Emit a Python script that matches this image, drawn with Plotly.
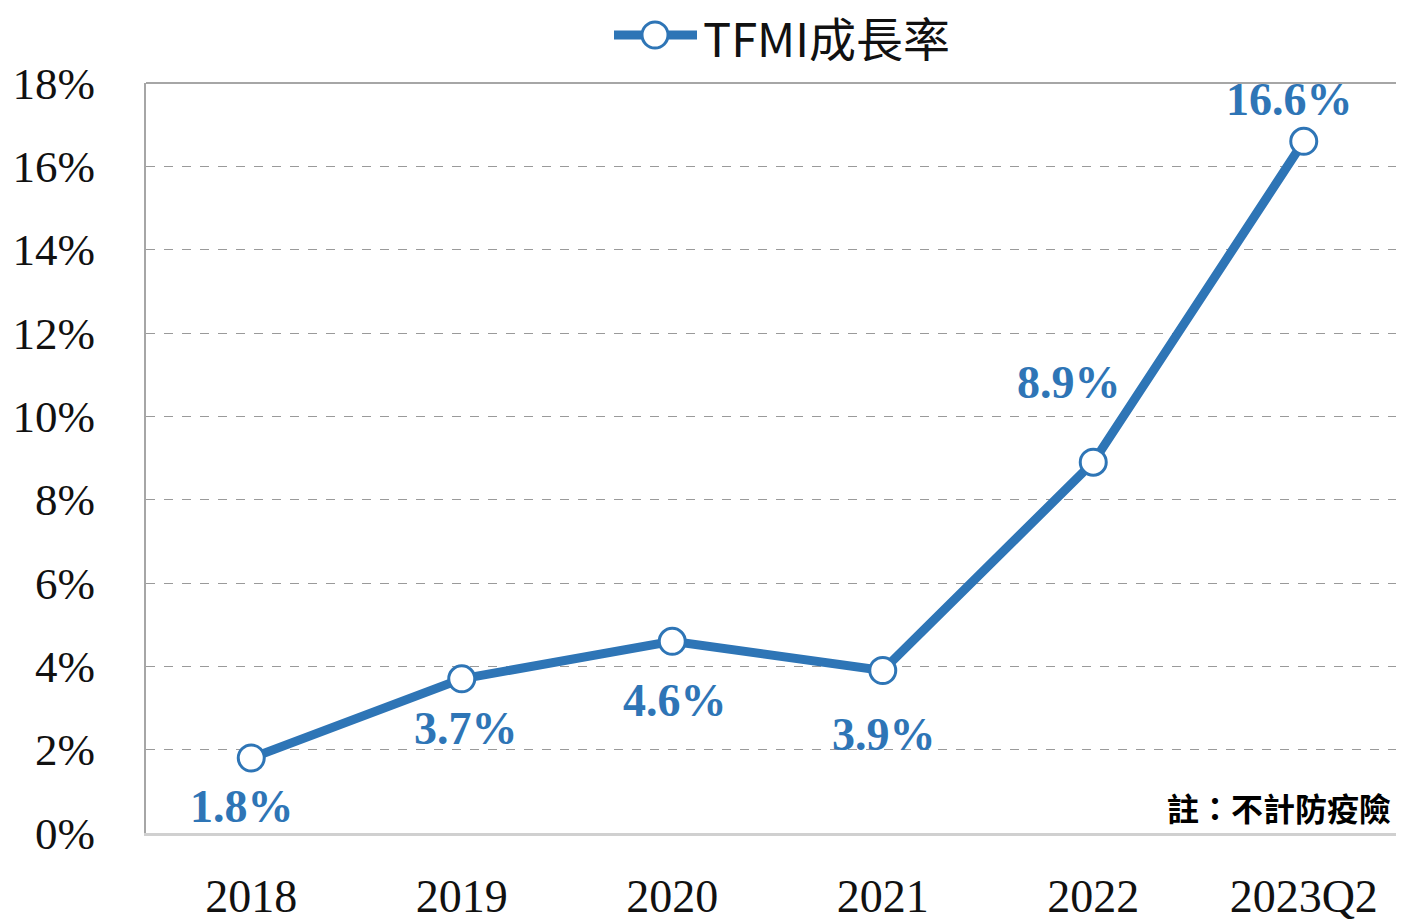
import plotly.graph_objects as go

categories = ["2018", "2019", "2020", "2021", "2022", "2023Q2"]
growth = [1.8, 3.7, 4.6, 3.9, 8.9, 16.6]
y_ticks = [0, 2, 4, 6, 8, 10, 12, 14, 16, 18]
y_tick_labels = [f"{v}%" for v in y_ticks]
series_name = "TFMI成長率"
note_text = "註：不計防疫險"

BLUE = "#2E75B6"
label_xshift = [-9, 4, 3, 1, -24, -14]
label_yshift = [-48, -50, -59, -64, 80, 42]

xpos = list(range(len(categories)))

fig = go.Figure()
fig.add_trace(go.Scatter(
    x=xpos, y=growth, name=series_name, mode="lines+markers",
    line=dict(color=BLUE, width=9),
    marker=dict(symbol="circle", size=26, color="white", line=dict(color=BLUE, width=3)),
    cliponaxis=False, hoverinfo="skip", showlegend=False,
))

for xp, v, dx, dy in zip(xpos, growth, label_xshift, label_yshift):
    fig.add_annotation(x=xp, y=v, xref="x", yref="y", text=f"<b>{v}%</b>", showarrow=False,
                       xshift=dx, yshift=dy,
                       font=dict(family="Liberation Serif", size=46, color=BLUE))

fig.add_annotation(xref="paper", yref="paper", x=0.987, y=0.0, xanchor="right", yanchor="bottom",
                   text=f"<b>{note_text}</b>", showarrow=False, yshift=1,
                   font=dict(family="Noto Sans CJK TC", size=32, color="#000000"))

# custom legend (line + circle symbol + label) above the plot
fig.add_annotation(xref="paper", yref="paper", x=0, y=1, xanchor="left", yanchor="middle",
                   xshift=555, yshift=47, text=series_name, showarrow=False,
                   height=50, valign="middle",
                   font=dict(family="Noto Sans CJK TC", size=47, color="#111111"))
legend_shapes = [
    dict(type="line", xref="paper", yref="paper", xsizemode="pixel", ysizemode="pixel",
         xanchor=0, yanchor=1, x0=468, x1=551, y0=48, y1=48,
         line=dict(color=BLUE, width=9)),
    dict(type="circle", xref="paper", yref="paper", xsizemode="pixel", ysizemode="pixel",
         xanchor=0, yanchor=1, x0=496, x1=522, y0=35, y1=61,
         fillcolor="white", line=dict(color=BLUE, width=3)),
]

fig.update_layout(
    width=1401, height=921,
    margin=dict(l=138, r=0, t=75, b=96, autoexpand=False),
    plot_bgcolor="white", paper_bgcolor="white",
    showlegend=False,
    xaxis=dict(range=[-0.5, len(categories) - 0.5], tickmode="array", tickvals=xpos,
               ticktext=categories, showgrid=False, zeroline=False, showline=True,
               linecolor="#d0d0d0", linewidth=3,
               ticks="outside", ticklen=21, tickcolor="rgba(0,0,0,0)",
               tickfont=dict(family="Liberation Serif", size=46, color="#111111"), fixedrange=True),
    yaxis=dict(range=[0, 18], tickmode="array", tickvals=y_ticks, ticktext=y_tick_labels,
               showgrid=True, gridcolor="#9a9a9a", griddash="dash", gridwidth=1, zeroline=False,
               showline=True, linecolor="#a6a6a6", linewidth=2,
               ticks="outside", ticklen=40, tickcolor="rgba(0,0,0,0)",
               tickfont=dict(family="Liberation Serif", size=45, color="#111111"), fixedrange=True),
    shapes=[dict(type="line", xref="paper", yref="paper", x0=0, x1=1, y0=1, y1=1,
                 line=dict(color="#a6a6a6", width=2))] + legend_shapes,
)

fig.write_html("out.html")
